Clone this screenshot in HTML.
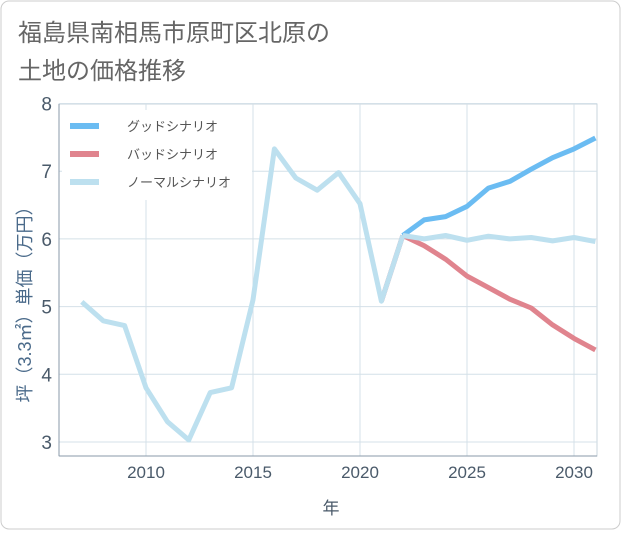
<!DOCTYPE html>
<html><head><meta charset="utf-8"><style>
body{margin:0;background:#fff;font-family:"Liberation Sans","Noto Sans CJK JP",sans-serif;}
#wrap{position:relative;width:621px;height:530px;}
</style></head><body>
<div id="wrap">
<svg id="chart" width="621" height="530" xmlns="http://www.w3.org/2000/svg">
<rect x="1" y="1" width="619" height="528" rx="8" fill="#fff" stroke="#ccc"/>
<text x="18" y="41" font-size="24" fill="#666" font-family="Liberation Sans, Noto Sans CJK JP, sans-serif">福島県南相馬市原町区北原の</text>
<text x="18" y="79" font-size="24" fill="#666" font-family="Liberation Sans, Noto Sans CJK JP, sans-serif">土地の価格推移</text>
<g id="grid"></g>
<g id="lines"></g>
<g id="legend"></g>
<text x="331" y="514" font-size="17" fill="#4a5a6a" text-anchor="middle" font-family="Liberation Sans, Noto Sans CJK JP, sans-serif">年</text>
<text transform="translate(31,300) rotate(-90)" font-size="18" fill="#4a6a8a" text-anchor="middle" font-family="Liberation Sans, Noto Sans CJK JP, sans-serif">坪（3.3㎡）単価（万円）</text>
</svg>
</div>
<script>
const years=[2007,2008,2009,2010,2011,2012,2013,2014,2015,2016,2017,2018,2019,2020,2021,2022];
const history=[5.07,4.79,4.72,3.8,3.3,3.03,3.73,3.8,5.1,7.33,6.9,6.72,6.98,6.52,5.08,6.05];
const futureYears=[2022,2023,2024,2025,2026,2027,2028,2029,2030,2031];
const good=[6.05,6.28,6.33,6.48,6.75,6.85,7.03,7.2,7.33,7.49];
const bad=[6.05,5.9,5.7,5.45,5.28,5.11,4.98,4.73,4.53,4.36];
const normal=[6.05,6.0,6.05,5.98,6.04,6.0,6.02,5.97,6.02,5.96];
const xTicks=[2010,2015,2020,2025,2030];
const yTicks=[3,4,5,6,7,8];
const NS='http://www.w3.org/2000/svg';
const L=59,R=597,T=104,B=456;
function xs(v){return 146+(v-2010)*21.4;}
function ys(v){return 442-(v-3)*67.7;}
function mk(tag,attrs,parent){const e=document.createElementNS(NS,tag);for(const k in attrs)e.setAttribute(k,attrs[k]);parent.appendChild(e);return e;}
const grid=document.getElementById('grid');
const bg=mk('rect',{x:L,y:T,width:R-L,height:B-T,fill:'#fff',stroke:'#c8d4dc'},grid);


xTicks.forEach(t=>{
 const l=mk('line',{x1:xs(t),x2:xs(t),y1:T,y2:B,stroke:'#d4e0e8'},grid);
 
 
 const tx=mk('text',{x:xs(t),y:478,'font-size':17,fill:'#4a5a6a','text-anchor':'middle'},grid);
 tx.textContent=t;
 
 
});
yTicks.forEach(t=>{
 const l=mk('line',{x1:L,x2:R,y1:ys(t),y2:ys(t),stroke:'#d4e0e8'},grid);
 
 
 const tx=mk('text',{x:52,y:ys(t)+7,'font-size':19,fill:'#4a5a6a','text-anchor':'end'},grid);
 tx.textContent=t;
 
 
});
mk('line',{x1:L,x2:L,y1:T,y2:B,stroke:'#8a9aaa'},grid);
mk('line',{x1:L,x2:R,y1:B,y2:B,stroke:'#8a9aaa'},grid);
const lines=document.getElementById('lines');
function path(xv,yv,color,name){
 const d=xv.map((x,i)=>(i?'L':'M')+xs(x).toFixed(1)+','+ys(yv[i]).toFixed(1)).join(' ');
 const p=mk('path',{d:d,fill:'none',stroke:color,'stroke-width':5,'stroke-linejoin':'round'},lines);
 
 
}
path(futureYears,good,'#6bbcf2','good-scenario-line');
path(futureYears,bad,'#e0848e','bad-scenario-line');
path(years.slice(-2),history.slice(-2),'#e0848e','bad-scenario-link');
path(years,history,'#bde0ef','normal-history-line');
path(futureYears,normal,'#bde0ef','normal-scenario-line');
const lg=document.getElementById('legend');
const lb=mk('rect',{x:62,y:110,width:190,height:90,fill:'#fff'},lg);


[['グッドシナリオ','#6bbcf2',126],['バッドシナリオ','#e0848e',154],['ノーマルシナリオ','#bde0ef',182]].forEach(([n,c,y])=>{
 const s=mk('line',{x1:70,x2:99,y1:y,y2:y,stroke:c,'stroke-width':6},lg);
 
 
 const t=mk('text',{x:127,y:y+5,'font-size':13,fill:'#555'},lg);
 t.textContent=n;
 
 
});
</script>
</body></html>
